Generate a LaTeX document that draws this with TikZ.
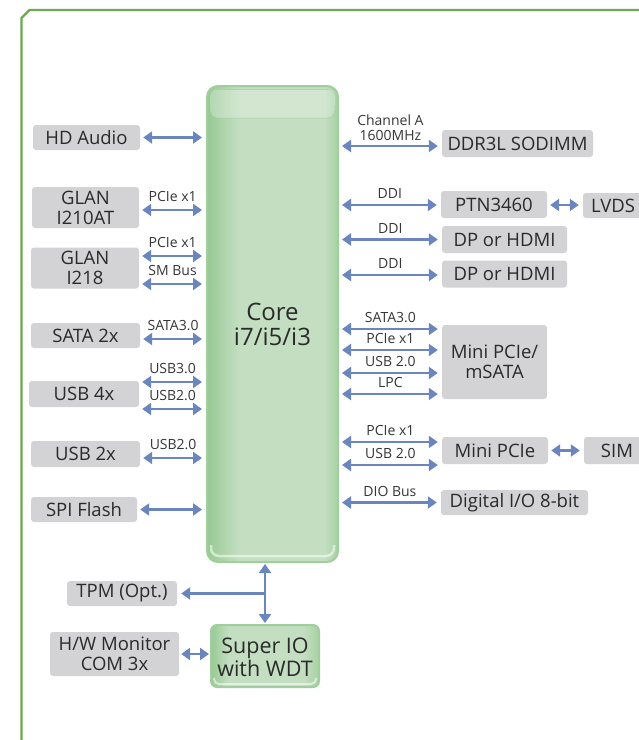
\documentclass[tikz,border=0pt]{standalone}
\usepackage{fontspec}
\setmainfont{Open Sans}
\usetikzlibrary{arrows.meta}
\definecolor{framegreen}{HTML}{6BAA52}
\definecolor{boxgray}{HTML}{D3D3D5}
\definecolor{txt}{HTML}{2A2A2A}
\definecolor{lbltxt}{HTML}{363636}
\definecolor{arrblue}{HTML}{6B86BE}
\definecolor{cL}{HTML}{98C994}
\definecolor{cM}{HTML}{C3DEC1}
\definecolor{cR}{HTML}{A6D1A2}
\definecolor{coreedge}{HTML}{A0CE9C}
\pgfdeclarehorizontalshading{coreshade}{100bp}{color(0bp)=(cL); color(25bp)=(cL); color(37bp)=(cM); color(70bp)=(cM); color(75bp)=(cR); color(100bp)=(cR)}
\pgfdeclarehorizontalshading{sioshade}{100bp}{color(0bp)=(cL); color(25bp)=(cL); color(33bp)=(cM); color(68bp)=(cM); color(75bp)=(cR); color(100bp)=(cR)}
\begin{document}
\begin{tikzpicture}[x=1pt,y=-1pt,
  gbox/.style={fill=boxgray, rounded corners=3pt, inner sep=0pt, text=txt,
    font=\fontsize{18.5}{20}\selectfont, align=center},
  bus/.style={draw=arrblue, line width=2.5pt,
    {Triangle[length=9pt,width=12pt]}-{Triangle[length=9pt,width=12pt]},
    shorten <=3pt, shorten >=4pt},
  onebus/.style={draw=arrblue, line width=2.5pt, -{Triangle[length=9pt,width=12pt]}, shorten >=4pt},
  lbl/.style={font=\fontsize{14}{15}\selectfont, text=lbltxt, inner sep=0pt},
  lblL/.style={lbl, above=7pt, midway},
  lblR/.style={lbl, above=5pt, midway}]
\useasboundingbox (0,0) rectangle (639,740);
\fill[white] (0,0) rectangle (639,740);
% frame
\draw[framegreen, line width=2.2pt] (21.5,760) -- (21.5,18) -- (29.5,10) -- (660,10);

% core
\node[draw=coreedge, line width=2pt, rounded corners=11pt, shading=coreshade,
  minimum width=131pt, minimum height=476pt, inner sep=0pt] (core) at (272.5,324) {};
\fill[white, opacity=0.25, rounded corners=8pt] ([xshift=4pt,yshift=-4pt]core.north west) rectangle ([xshift=-4pt,yshift=-33pt]core.north east);
\draw[cL, line width=1pt, opacity=0.35, rounded corners=8pt] ([xshift=4pt,yshift=-20pt]core.north west) |- ([yshift=-33pt]core.north) -| ([xshift=-4pt,yshift=-20pt]core.north east);
\draw[cL, line width=1.2pt, opacity=0.6] ([xshift=10pt,yshift=-4.5pt]core.north west) -- ([xshift=-10pt,yshift=-4.5pt]core.north east);
\draw[white, opacity=0.55, line width=2.5pt, rounded corners=8pt] ([xshift=5pt,yshift=18pt]core.south west) |- ([yshift=7pt]core.south) -| ([xshift=-5pt,yshift=18pt]core.south east);
\node[text=txt, font=\fontsize{24}{25}\selectfont, align=center] at (core.center) {Core\\i7/i5/i3};

% super io
\node[draw=coreedge, line width=2pt, rounded corners=6pt, shading=sioshade,
  minimum width=108pt, minimum height=62pt, inner sep=0pt] (sio) at (265,656) {};
\draw[white, opacity=0.55, line width=2pt, rounded corners=5pt] ([xshift=4pt,yshift=10pt]sio.south west) |- ([yshift=4pt]sio.south) -| ([xshift=-4pt,yshift=10pt]sio.south east);
\node[text=txt, font=\fontsize{21.5}{23}\selectfont, align=center] at ([yshift=-1pt]sio.center) {Super IO\\with WDT};

% left boxes
\node[gbox, minimum width=107pt, minimum height=25pt] (hda) at (86.5,137.5) {HD Audio};
\node[gbox, minimum width=107pt, minimum height=41pt] (glan1) at (85.5,207.5) {GLAN\\I210AT};
\node[gbox, minimum width=108pt, minimum height=41pt] (glan2) at (85,268) {GLAN\\I218};
\node[gbox, minimum width=109pt, minimum height=25pt] (sata) at (85.5,335.5) {SATA 2x};
\node[gbox, minimum width=110pt, minimum height=26pt] (usb4) at (84,394) {USB 4x};
\node[gbox, minimum width=109pt, minimum height=26pt] (usb2) at (85.5,454) {USB 2x};
\node[gbox, minimum width=106pt, minimum height=25pt] (spi) at (84,509.5) {SPI Flash};
\node[gbox, minimum width=110pt, minimum height=25pt] (tpm) at (122,593.5) {TPM (Opt.)};
\node[gbox, minimum width=129pt, minimum height=44pt] (hwm) at (114.5,654) {H/W Monitor\\COM 3x};

% right boxes
\node[gbox, minimum width=151pt, minimum height=27pt] (ddr) at (517.5,143.5) {DDR3L SODIMM};
\node[gbox, minimum width=106pt, minimum height=27pt] (ptn) at (494,204.5) {PTN3460};
\node[gbox, minimum width=60pt, minimum height=25pt] (lvds) at (613,205.5) {LVDS};
\node[gbox, minimum width=125pt, minimum height=27pt] (dp1) at (504.5,239.5) {DP or HDMI};
\node[gbox, minimum width=125pt, minimum height=27pt] (dp2) at (504.5,274) {DP or HDMI};
\node[gbox, minimum width=105pt, minimum height=74pt, font=\fontsize{18.5}{19.5}\selectfont] (msata) at (494.5,362) {Mini PCIe/\\mSATA};
\node[gbox, minimum width=106pt, minimum height=27pt] (mpcie) at (495,450.5) {Mini PCIe};
\node[gbox, minimum width=66pt, minimum height=27pt] (sim) at (617,450.5) {SIM};
\node[gbox, minimum width=147pt, minimum height=25pt] (dio) at (514.5,502.5) {Digital I/O 8-bit};

% left connectors
\draw[bus] (hda.east |- 0,137.5) -- (core.west |- 0,137.5);
\draw[bus] (glan1.east |- 0,210) -- node[lblL] {PCIe x1} (core.west |- 0,210);
\draw[bus] (glan2.east |- 0,256) -- node[lblL] {PCIe x1} (core.west |- 0,256);
\draw[bus] (glan2.east |- 0,284) -- node[lblL] {SM Bus} (core.west |- 0,284);
\draw[bus] (sata.east |- 0,339) -- node[lblL] {SATA3.0} (core.west |- 0,339);
\draw[bus] (usb4.east |- 0,382) -- node[lblL] {USB3.0} (core.west |- 0,382);
\draw[bus] (usb4.east |- 0,409) -- node[lblL] {USB2.0} (core.west |- 0,409);
\draw[bus] (usb2.east |- 0,458) -- node[lblL] {USB2.0} (core.west |- 0,458);
\draw[bus] (spi.east |- 0,509.5) -- (core.west |- 0,509.5);

% right connectors
\draw[bus] (core.east |- 0,146) -- node[lbl, above=4pt, midway, align=center, font=\fontsize{14}{15}\selectfont] {Channel A\\1600MHz} (ddr.west |- 0,146);
\draw[bus] (core.east |- 0,205) -- node[lblR] {DDI} (ptn.west |- 0,205);
\draw[bus] (ptn.east |- 0,205) -- (lvds.west |- 0,205);
\draw[bus] (core.east |- 0,239.5) -- node[lblR] {DDI} (dp1.west |- 0,239.5);
\draw[bus] (core.east |- 0,275) -- node[lblR] {DDI} (dp2.west |- 0,275);
\draw[bus] (core.east |- 0,329) -- node[lblR] {SATA3.0} (msata.west |- 0,329);
\draw[bus] (core.east |- 0,350) -- node[lblR] {PCIe x1} (msata.west |- 0,350);
\draw[bus] (core.east |- 0,373) -- node[lblR] {USB 2.0} (msata.west |- 0,373);
\draw[bus] (core.east |- 0,394) -- node[lblR] {LPC} (msata.west |- 0,394);
\draw[bus] (core.east |- 0,442) -- node[lblR] {PCIe x1} (mpcie.west |- 0,442);
\draw[bus] (core.east |- 0,465) -- node[lblR] {USB 2.0} (mpcie.west |- 0,465);
\draw[bus] (mpcie.east |- 0,450.5) -- (sim.west |- 0,450.5);
\draw[bus] (core.east |- 0,502.5) -- node[lblR] {DIO Bus} (dio.west |- 0,502.5);

% bottom connectors
\draw[bus, shorten <=1pt, shorten >=1pt] (sio.north) -- (sio.north |- core.south);
\coordinate (tj) at (sio.north |- tpm.east);
\draw[onebus] (tj) -- (tpm.east);
\draw[bus, shorten <=2pt, shorten >=1pt] (hwm.east) -- (sio.west |- hwm.east);
\end{tikzpicture}
\end{document}
